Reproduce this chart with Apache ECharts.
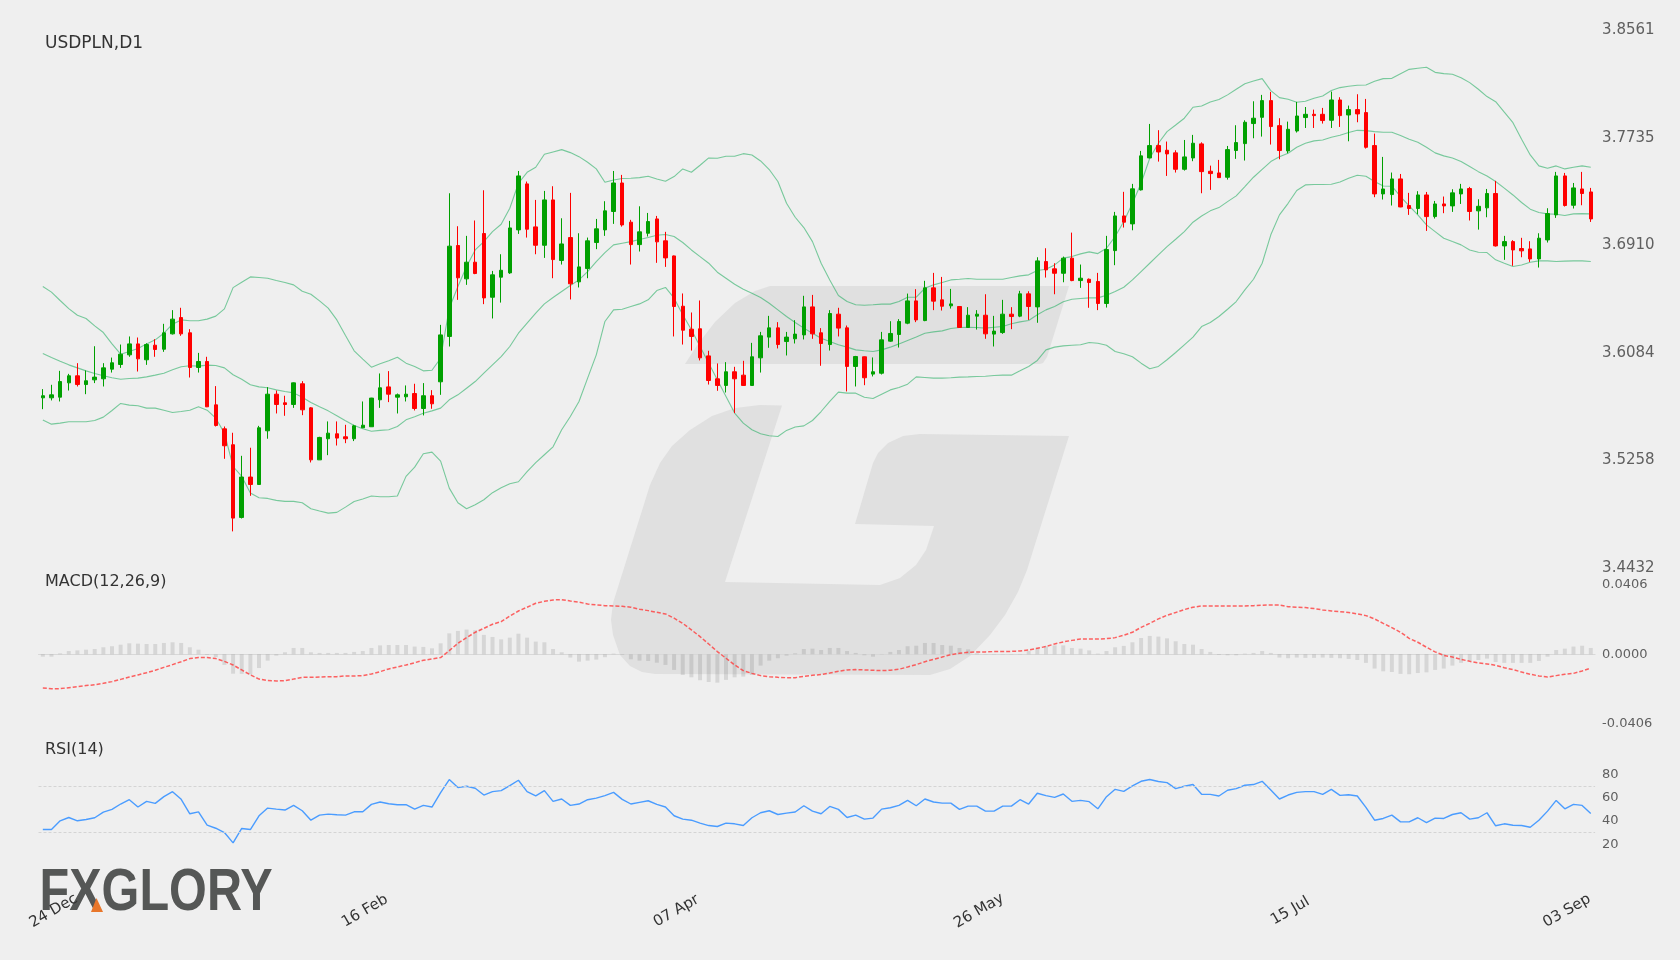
<!DOCTYPE html>
<html><head><meta charset="utf-8">
<style>html,body{margin:0;padding:0;background:#efefef}#c{width:1680px;height:960px}</style>
<script src="https://cdn.jsdelivr.net/npm/echarts@6/dist/echarts.min.js"></script>
</head><body><div id="c"></div>
<script>
const tickLabels=['24 Dec','16 Feb','07 Apr','26 May','15 Jul','03 Sep'];
const tickIndex=[1,37,73,108,144,176];
const priceTicks=[3.4432,3.5258,3.6084,3.6910,3.7735,3.8561];
const macdTicks=[-0.0406,0,0.0406];
const opens=[3.5738,3.5738,3.5743,3.5853,3.5907,3.5840,3.5876,3.5884,3.5958,3.5994,
3.6068,3.6152,3.6030,3.6142,3.6111,3.6229,3.6354,3.6237,3.5971,3.6017,
3.5684,3.5500,3.5378,3.4820,3.5130,3.5073,3.5485,3.5766,3.5700,3.5687,
3.5846,3.5661,3.5262,3.5424,3.5462,3.5439,3.5424,3.5508,3.5516,3.5723,
3.5822,3.5743,3.5746,3.5771,3.5656,3.5754,3.5861,3.6209,3.6907,3.6651,
3.6779,3.6999,3.6510,3.6664,3.6697,3.7027,3.7380,3.7050,3.6909,3.7257,
3.6792,3.6968,3.6628,3.6730,3.6930,3.7027,3.7168,3.7387,3.7086,3.6914,
3.7001,3.7111,3.6943,3.6827,3.6441,3.6265,3.6268,3.6060,3.5884,3.5833,
3.5938,3.5912,3.5833,3.6045,3.6204,3.6275,3.6170,3.6191,3.6221,3.6436,
3.6237,3.6147,3.6380,3.6275,3.5979,3.6053,3.5920,3.5927,3.6173,3.6224,
3.6311,3.6482,3.6331,3.6582,3.6490,3.6444,3.6439,3.6278,3.6365,3.6372,
3.6227,3.6239,3.6380,3.6365,3.6536,3.6436,3.6784,3.6728,3.6694,3.6810,
3.6638,3.6648,3.6631,3.6462,3.6868,3.7134,3.7073,3.7334,3.7579,3.7674,
3.7638,3.7618,3.7492,3.7579,3.7687,3.7477,3.7464,3.7431,3.7636,3.7689,
3.7843,3.7891,3.8019,3.7827,3.7633,3.7786,3.7889,3.7914,3.7914,3.7868,
3.8024,3.7909,3.7950,3.7927,3.7674,3.7303,3.7298,3.7418,3.7214,3.7191,
3.7295,3.7129,3.7226,3.7211,3.7303,3.7344,3.7173,3.7196,3.7306,3.6904,
3.6937,3.6884,3.6881,3.6804,3.6950,3.7142,3.7441,3.7216,3.7341,3.7318];
const closes=[3.5754,3.5761,3.5863,3.5907,3.5840,3.5869,3.5897,3.5968,3.6007,3.6073,
3.6152,3.6037,3.6147,3.6109,3.6237,3.6342,3.6229,3.5971,3.6017,3.5669,
3.5526,3.5370,3.4815,3.5130,3.5073,3.5508,3.5766,3.5687,3.5687,3.5853,
3.5646,3.5262,3.5434,3.5467,3.5429,3.5424,3.5523,3.5528,3.5736,3.5815,
3.5766,3.5761,3.5766,3.5656,3.5754,3.5692,3.6221,3.6902,3.6659,3.6779,
3.6692,3.6505,3.6682,3.6717,3.7042,3.7441,3.7032,3.6909,3.7257,3.6799,
3.6919,3.6613,3.6743,3.6943,3.7035,3.7173,3.7387,3.7065,3.6914,3.7012,
3.7091,3.6935,3.6812,3.6439,3.6257,3.6209,3.6045,3.5871,3.5833,3.5938,
3.5884,3.5833,3.6053,3.6214,3.6275,3.6147,3.6204,3.6227,3.6436,3.6229,
3.6155,3.6385,3.6273,3.5979,3.6055,3.5892,3.5938,3.6183,3.6232,3.6324,
3.6482,3.6336,3.6582,3.6480,3.6441,3.6459,3.6278,3.6372,3.6380,3.6229,
3.6250,3.6380,3.6362,3.6536,3.6439,3.6789,3.6720,3.6694,3.6810,3.6638,
3.6656,3.6623,3.6462,3.6876,3.7134,3.7086,3.7342,3.7595,3.7674,3.7625,
3.7610,3.7492,3.7587,3.7692,3.7474,3.7459,3.7428,3.7643,3.7697,3.7853,
3.7884,3.8019,3.7820,3.7636,3.7799,3.7901,3.7914,3.7904,3.7866,3.8024,
3.7904,3.7950,3.7917,3.7661,3.7303,3.7341,3.7418,3.7203,3.7191,3.7295,
3.7129,3.7226,3.7211,3.7311,3.7341,3.7168,3.7208,3.7306,3.6904,3.6937,
3.6873,3.6866,3.6804,3.6963,3.7152,3.7441,3.7214,3.7349,3.7306,3.7111];
const highs=[3.5805,3.5838,3.5945,3.5922,3.6004,3.5948,3.6134,3.6004,3.6047,3.6147,
3.6209,3.6201,3.6157,3.6188,3.6306,3.6411,3.6429,3.6265,3.6083,3.6053,
3.5828,3.5518,3.5470,3.5293,3.5355,3.5523,3.5820,3.5794,3.5754,3.5856,
3.5866,3.5667,3.5439,3.5557,3.5557,3.5531,3.5531,3.5710,3.5738,3.5925,
3.5943,3.5771,3.5833,3.5846,3.5851,3.5797,3.6298,3.7308,3.7055,3.6981,
3.7099,3.7331,3.6712,3.6840,3.7096,3.7479,3.7398,3.7257,3.7326,3.7362,
3.7116,3.7311,3.7001,3.6968,3.7111,3.7247,3.7479,3.7449,3.7104,3.7208,
3.7157,3.7134,3.7012,3.6830,3.6539,3.6393,3.6485,3.6099,3.6002,3.6012,
3.5976,3.6022,3.6160,3.6244,3.6367,3.6319,3.6244,3.6334,3.6521,3.6528,
3.6273,3.6411,3.6429,3.6293,3.6060,3.6055,3.6048,3.6244,3.6326,3.6342,
3.6538,3.6572,3.6636,3.6697,3.6666,3.6574,3.6441,3.6434,3.6411,3.6533,
3.6367,3.6490,3.6434,3.6559,3.6556,3.6817,3.6886,3.6771,3.6822,3.7006,
3.6761,3.6654,3.6697,3.6981,3.7165,3.7319,3.7380,3.7633,3.7840,3.7792,
3.7705,3.7638,3.7717,3.7756,3.7699,3.7520,3.7564,3.7671,3.7830,3.7868,
3.8014,3.8063,3.8086,3.7884,3.7858,3.8009,3.7970,3.7950,3.7963,3.8088,
3.8045,3.7981,3.8068,3.8032,3.7766,3.7587,3.7467,3.7456,3.7311,3.7324,
3.7318,3.7249,3.7283,3.7339,3.7380,3.7357,3.7262,3.7341,3.7403,3.6981,
3.6948,3.6966,3.6940,3.7001,3.7193,3.7472,3.7464,3.7387,3.7472,3.7349];
const lows=[3.5651,3.5718,3.5710,3.5794,3.5825,3.5766,3.5851,3.5825,3.5932,3.5968,
3.6053,3.5940,3.5991,3.6053,3.6091,3.6224,3.6214,3.5894,3.5932,3.5667,
3.5518,3.5270,3.4713,3.4812,3.4986,3.5073,3.5424,3.5618,3.5600,3.5661,
3.5605,3.5242,3.5262,3.5298,3.5372,3.5390,3.5406,3.5508,3.5516,3.5661,
3.5705,3.5618,3.5710,3.5641,3.5603,3.5654,3.5761,3.6132,3.6490,3.6605,
3.6687,3.6457,3.6347,3.6469,3.6689,3.6996,3.6968,3.6840,3.6812,3.6656,
3.6761,3.6493,3.6585,3.6656,3.6879,3.6981,3.7073,3.7052,3.6761,3.6861,
3.6976,3.6774,3.6743,3.6209,3.6147,3.6101,3.6025,3.5840,3.5792,3.5779,
3.5621,3.5830,3.5833,3.5932,3.6122,3.6117,3.6063,3.6155,3.6186,3.6191,
3.5984,3.6101,3.6209,3.5787,3.5825,3.5835,3.5902,3.5917,3.6168,3.6124,
3.6303,3.6319,3.6326,3.6411,3.6408,3.6423,3.6275,3.6275,3.6262,3.6191,
3.6132,3.6229,3.6265,3.6357,3.6336,3.6314,3.6661,3.6533,3.6625,3.6633,
3.6582,3.6429,3.6411,3.6431,3.6756,3.7045,3.7024,3.7329,3.7577,3.7551,
3.7441,3.7467,3.7482,3.7554,3.7308,3.7334,3.7428,3.7413,3.7572,3.7559,
3.7730,3.7743,3.7682,3.7569,3.7615,3.7774,3.7809,3.7809,3.7843,3.7809,
3.7817,3.7707,3.7853,3.7651,3.7278,3.7260,3.7214,3.7201,3.7142,3.7147,
3.7019,3.7114,3.7155,3.7165,3.7226,3.7099,3.7029,3.7124,3.6899,3.6797,
3.6751,3.6817,3.6781,3.6738,3.6930,3.7119,3.7206,3.7191,3.7216,3.7088];
const bbUpper=[3.6592,3.6549,3.6485,3.6423,3.6372,3.6347,3.6290,3.6239,3.6152,3.6073,
3.6094,3.6117,3.6152,3.6183,3.6234,3.6303,3.6336,3.6329,3.6329,3.6342,
3.6365,3.6421,3.6584,3.6625,3.6666,3.6661,3.6656,3.6638,3.6623,3.6605,
3.6556,3.6533,3.6482,3.6426,3.6336,3.6216,3.6099,3.6035,3.5973,3.5999,
3.6022,3.6050,3.6004,3.5978,3.5945,3.5950,3.6042,3.6426,3.6592,3.6746,
3.6873,3.6937,3.7014,3.7070,3.7193,3.7385,3.7469,3.7508,3.7607,3.7625,
3.7643,3.7620,3.7589,3.7546,3.7495,3.7393,3.7410,3.7421,3.7423,3.7428,
3.7439,3.7418,3.7400,3.7436,3.7495,3.7469,3.7523,3.7579,3.7577,3.7592,
3.7592,3.7612,3.7602,3.7556,3.7490,3.7398,3.7231,3.7124,3.7045,3.6937,
3.6771,3.6643,3.6523,3.6477,3.6452,3.6449,3.6452,3.6457,3.6457,3.6477,
3.6510,3.6510,3.6579,3.6605,3.6623,3.6643,3.6648,3.6654,3.6648,3.6648,
3.6648,3.6648,3.6661,3.6674,3.6682,3.6715,3.6725,3.6758,3.6810,3.6822,
3.6843,3.6858,3.6845,3.6886,3.6976,3.7091,3.7232,3.7385,3.7577,3.7692,
3.7781,3.7832,3.7884,3.7968,3.7978,3.8009,3.8027,3.8063,3.8106,3.8149,
3.8170,3.8188,3.8096,3.8042,3.8029,3.8006,3.8014,3.8037,3.8055,3.8096,
3.8119,3.8129,3.8137,3.8139,3.8167,3.8188,3.8190,3.8226,3.8259,3.8267,
3.8275,3.8236,3.8226,3.8221,3.8195,3.8157,3.8106,3.8050,3.8011,3.7930,
3.7850,3.7722,3.7602,3.7518,3.7500,3.7518,3.7495,3.7508,3.7518,3.7508];
const bbMiddle=[3.6078,3.6048,3.6019,3.5991,3.5968,3.5945,3.5925,3.5907,3.5892,3.5881,
3.5886,3.5889,3.5899,3.5912,3.5927,3.5953,3.5976,3.5984,3.5981,3.5989,
3.5986,3.5968,3.5915,3.5881,3.5838,3.5822,3.5815,3.5799,3.5787,3.5776,
3.5743,3.5702,3.5669,3.5638,3.5600,3.5562,3.5526,3.5500,3.5482,3.5488,
3.5493,3.5518,3.5569,3.5592,3.5620,3.5638,3.5659,3.5723,3.5761,3.5812,
3.5863,3.5927,3.5991,3.6055,3.6132,3.6234,3.6311,3.6388,3.6459,3.6508,
3.6554,3.6600,3.6643,3.6707,3.6784,3.6853,3.6912,3.6925,3.6937,3.6953,
3.6968,3.6986,3.6991,3.6976,3.6930,3.6873,3.6822,3.6771,3.6702,3.6656,
3.6610,3.6572,3.6541,3.6508,3.6464,3.6413,3.6362,3.6316,3.6273,3.6234,
3.6196,3.6170,3.6145,3.6127,3.6106,3.6099,3.6094,3.6106,3.6127,3.6152,
3.6178,3.6204,3.6234,3.6244,3.6252,3.6270,3.6278,3.6280,3.6278,3.6273,
3.6280,3.6285,3.6306,3.6321,3.6331,3.6375,3.6413,3.6439,3.6475,3.6495,
3.6500,3.6505,3.6505,3.6526,3.6554,3.6587,3.6643,3.6707,3.6771,3.6835,
3.6899,3.6955,3.7014,3.7086,3.7134,3.7173,3.7198,3.7244,3.7288,3.7359,
3.7431,3.7492,3.7551,3.7589,3.7615,3.7661,3.7692,3.7710,3.7717,3.7738,
3.7753,3.7774,3.7791,3.7789,3.7781,3.7776,3.7776,3.7751,3.7722,3.7699,
3.7661,3.7618,3.7595,3.7579,3.7551,3.7513,3.7474,3.7441,3.7398,3.7347,
3.7295,3.7237,3.7186,3.7160,3.7150,3.7147,3.7137,3.7150,3.7152,3.7150];
const bbLower=[3.5567,3.5536,3.5544,3.5554,3.5554,3.5554,3.5564,3.5590,3.5641,3.5695,
3.5682,3.5677,3.5659,3.5659,3.5643,3.5626,3.5633,3.5643,3.5669,3.5643,
3.5582,3.5467,3.5211,3.5135,3.5007,3.4971,3.4966,3.4951,3.4943,3.4943,
3.4933,3.4887,3.4869,3.4853,3.4859,3.4899,3.4943,3.4961,3.4984,3.4979,
3.4979,3.4984,3.5135,3.5206,3.5309,3.5321,3.5252,3.5045,3.4933,3.4887,
3.4918,3.4956,3.5010,3.5048,3.5079,3.5094,3.5171,3.5240,3.5301,3.5362,
3.5493,3.5595,3.5710,3.5889,3.6068,3.6324,3.6413,3.6418,3.6439,3.6459,
3.6490,3.6561,3.6585,3.6503,3.6375,3.6260,3.6132,3.6004,3.5876,3.5749,
3.5621,3.5544,3.5493,3.5462,3.5447,3.5441,3.5488,3.5514,3.5523,3.5564,
3.5633,3.5710,3.5782,3.5774,3.5774,3.5743,3.5733,3.5766,3.5799,3.5817,
3.5843,3.5899,3.5894,3.5889,3.5889,3.5892,3.5897,3.5899,3.5902,3.5904,
3.5909,3.5912,3.5912,3.5945,3.5979,3.6025,3.6106,3.6127,3.6137,3.6142,
3.6145,3.6163,3.6157,3.6142,3.6094,3.6076,3.6053,3.6004,3.5961,3.5979,
3.6030,3.6086,3.6145,3.6204,3.6285,3.6316,3.6362,3.6418,3.6477,3.6567,
3.6648,3.6771,3.6989,3.7142,3.7231,3.7329,3.7372,3.7375,3.7375,3.7377,
3.7395,3.7423,3.7446,3.7439,3.7398,3.7364,3.7362,3.7283,3.7211,3.7142,
3.7065,3.7014,3.6963,3.6937,3.6912,3.6873,3.6855,3.6853,3.6797,3.6771,
3.6746,3.6758,3.6779,3.6789,3.6789,3.6784,3.6787,3.6789,3.6789,3.6784];
const macdHist=[-.0014,-.0014,.0006,.0019,.0023,.0027,.0031,.0041,.0047,.0056,
.0064,.0062,.0060,.0060,.0066,.0070,.0066,.0041,.0027,-.0004,
-.0017,-.0062,-.0113,-.0114,-.0118,-.0080,-.0037,-.0008,.0012,.0037,
.0037,.0012,.0008,.0008,.0008,.0008,.0014,.0019,.0037,.0052,
.0054,.0054,.0054,.0045,.0043,.0035,.0064,.0122,.0136,.0144,
.0140,.0113,.0101,.0087,.0097,.0120,.0097,.0074,.0070,.0031,
.0012,-.0019,-.0043,-.0037,-.0031,-.0017,.0004,-.0004,-.0029,-.0037,
-.0039,-.0049,-.0062,-.0091,-.0120,-.0134,-.0151,-.0161,-.0165,-.0149,
-.0134,-.0130,-.0120,-.0066,-.0037,-.0023,-.0008,.0006,.0031,.0033,
.0025,.0037,.0037,.0019,.0008,-.0006,-.0014,.0002,.0014,.0025,
.0047,.0050,.0066,.0066,.0054,.0050,.0037,.0029,.0006,.0002,
.0002,.0002,.0002,.0002,.0019,.0037,.0047,.0052,.0052,.0037,
.0033,.0023,.0004,.0019,.0041,.0049,.0070,.0095,.0107,.0103,
.0093,.0076,.0060,.0056,.0031,.0014,-.0004,-.0006,-.0006,.0004,
.0008,.0019,.0008,-.0019,-.0023,-.0019,-.0021,-.0021,-.0019,-.0021,
-.0023,-.0027,-.0033,-.0050,-.0083,-.0099,-.0103,-.0114,-.0116,-.0109,
-.0105,-.0091,-.0083,-.0066,-.0050,-.0039,-.0033,-.0025,-.0045,-.0050,
-.0050,-.0050,-.0050,-.0039,-.0014,.0025,.0033,.0045,.0050,.0037];
const macdSignal=[-.0196,-.0200,-.0200,-.0194,-.0188,-.0182,-.0177,-.0169,-.0159,-.0146,
-.0132,-.0120,-.0107,-.0093,-.0076,-.0060,-.0043,-.0025,-.0019,-.0019,
-.0025,-.0041,-.0062,-.0091,-.0120,-.0144,-.0153,-.0155,-.0153,-.0144,
-.0134,-.0134,-.0132,-.0130,-.0130,-.0126,-.0126,-.0124,-.0114,-.0101,
-.0085,-.0074,-.0062,-.0049,-.0035,-.0027,-.0019,.0021,.0064,.0097,
.0128,.0151,.0175,.0190,.0223,.0252,.0274,.0297,.0308,.0316,
.0318,.0310,.0303,.0293,.0287,.0283,.0281,.0279,.0274,.0262,
.0254,.0244,.0235,.0210,.0180,.0142,.0103,.0060,.0016,-.0023,
-.0062,-.0095,-.0111,-.0124,-.0130,-.0134,-.0136,-.0136,-.0128,-.0122,
-.0118,-.0109,-.0099,-.0091,-.0089,-.0091,-.0093,-.0095,-.0093,-.0087,
-.0074,-.0060,-.0043,-.0029,-.0016,-.0002,.0006,.0012,.0014,.0014,
.0016,.0016,.0017,.0019,.0025,.0035,.0045,.0060,.0072,.0081,
.0089,.0089,.0089,.0091,.0097,.0111,.0128,.0157,.0180,.0206,
.0227,.0243,.0260,.0274,.0281,.0281,.0281,.0281,.0281,.0281,
.0283,.0285,.0287,.0287,.0277,.0274,.0272,.0266,.0258,.0252,
.0248,.0243,.0235,.0225,.0206,.0180,.0155,.0128,.0093,.0070,
.0041,.0014,-.0006,-.0016,-.0029,-.0041,-.0050,-.0056,-.0064,-.0078,
-.0089,-.0103,-.0116,-.0126,-.0132,-.0124,-.0116,-.0111,-.0097,-.0081];
const rsiValues=[32.6,32.6,40.1,42.9,40.1,41.2,42.7,47.6,49.9,54.5,
58.2,51.9,56.8,55.0,60.8,65.1,58.5,46.1,47.8,36.3,
33.7,30.0,21.1,33.5,32.6,44.4,51.0,50.1,49.3,53.3,
48.7,40.6,45.0,45.8,45.3,45.0,47.8,47.8,54.2,56.2,
54.7,53.9,53.9,50.1,53.3,51.9,64.2,75.5,68.6,69.7,
68.0,62.2,65.1,66.0,70.3,74.9,65.1,61.4,66.0,56.8,
58.8,53.3,54.5,58.2,59.6,61.7,64.5,58.5,54.5,55.9,
57.3,54.2,51.9,44.4,41.5,40.6,38.1,36.0,35.2,38.1,
37.5,36.0,42.7,47.0,48.7,45.5,46.7,47.6,53.0,48.4,
46.1,52.4,49.9,42.9,45.0,41.5,42.4,50.1,51.3,53.3,
57.6,53.0,58.8,56.2,55.3,55.3,49.9,52.7,52.7,48.4,
48.4,52.7,52.7,58.2,54.5,63.7,61.7,60.2,63.1,56.8,
57.6,56.5,50.4,60.8,67.1,65.4,70.0,74.0,75.5,73.8,
72.9,67.7,69.7,71.2,62.8,62.8,61.4,66.3,67.7,70.6,
71.2,74.0,66.5,58.8,62.2,64.5,65.1,65.1,62.8,67.1,
61.9,62.5,61.4,51.6,40.6,42.1,45.0,39.2,39.2,42.7,
38.6,42.4,42.1,45.5,47.0,41.5,42.7,47.0,35.8,37.5,
36.3,36.0,34.6,40.6,48.4,57.6,50.4,54.2,53.3,46.4];
const rsiLevels=[70,30];

const categories=opens.map((_,i)=>{const k=tickIndex.indexOf(i);return k>=0?tickLabels[k]:String(i);});
const candles=opens.map((o,i)=>[o,closes[i],lows[i],highs[i]]);
const font='"DejaVu Sans"';
const GL=38.5,GW=1556.6;
const bg='#efefef';
function xAx(grid,showLabel,showLine){return {type:'category',gridIndex:grid,data:categories,boundaryGap:true,
  axisTick:{show:false},splitLine:{show:false},
  axisLine:{show:showLine,onZero:true,lineStyle:{color:'#d8d8d8',width:1}},
  axisLabel:showLabel?{show:true,interval:(i)=>tickIndex.includes(i),rotate:30,align:'center',verticalAlign:'middle',margin:68,padding:[0,0,0,5],
    color:'#333',fontFamily:font,fontSize:15,hideOverlap:false,formatter:(v)=>v}:{show:false}};}
function yAx(grid,min,max,extra,lab){return Object.assign({type:'value',gridIndex:grid,position:'right',min,max,scale:true,
  axisLine:{show:false},axisTick:{show:false},splitLine:{show:false},
  axisLabel:Object.assign({color:'#606060',fontFamily:font,fontSize:13,margin:7,align:'left'},lab||{})},extra||{});}
function band(name,data){return {name,type:'line',data,xAxisIndex:0,yAxisIndex:0,symbol:'none',silent:true,z:3,
  lineStyle:{color:'rgba(40,175,100,0.6)',width:1.1}};}
const gTop=[[782,405.5],[760,405],[735,408],[712,416],[690,430],[672,446],[660,463],[650,485],[613,603],[611,620],[613,635],[620,655],[630,666],[642,672],[655,674],[930,675],[950,669],[970,656],[990,635],[1005,615],[1018,592],[1027,570],[1069,436],[920,434],[903,436],[888,443],[878,453],[873,463],[855,524],[934,526],[926,550],[916,565],[900,578],[880,585],[725,582]];
const gBand=[[685,364],[698,344],[715,322],[735,303],[755,291],[770,286],[1069,286],[1047,357],[1043,363],[1040,364]];
const chart=echarts.init(document.getElementById('c'),null,{width:1680,height:960});
chart.setOption({
  animation:false,backgroundColor:bg,
  title:[
   {text:'USDPLN,D1',left:45,top:35,textStyle:{fontFamily:font,fontSize:17,fontWeight:'normal',color:'#333'},padding:0},
   {text:'MACD(12,26,9)',left:45,top:574,textStyle:{fontFamily:font,fontSize:16,fontWeight:'normal',color:'#333'},padding:0},
   {text:'RSI(14)',left:45,top:742,textStyle:{fontFamily:font,fontSize:16,fontWeight:'normal',color:'#333'},padding:0}],
  graphic:[
   {type:'polygon',z:-10,silent:true,shape:{points:gTop},style:{fill:'#e0e0e0'}},
   {type:'polygon',z:-10,silent:true,shape:{points:gBand},style:{fill:'#e0e0e0'}},
   {type:'text',z:-5,silent:true,x:39.5,y:893,scaleX:0.81,style:{text:'FXGLORY',fontFamily:'"Liberation Sans"',fontWeight:'bold',fontSize:60,fill:'#555756',verticalAlign:'middle'}},
   {type:'polygon',z:-4,silent:true,shape:{points:[[91,912],[96.5,898],[103,912]]},style:{fill:'#e8762a'}}
  ],
  grid:[
   {left:GL,width:GW,top:30,height:538},
   {left:GL,width:GW,top:584.5,height:139.6},
   {left:GL,width:GW,top:774.3,height:69.9}],
  xAxis:[xAx(0,false,false),xAx(1,false,true),xAx(2,true,false)],
  yAxis:[
   yAx(0,priceTicks[0],priceTicks[5],{},{customValues:priceTicks,formatter:(v)=>v.toFixed(4),fontSize:15,padding:[2,0,0,0]}),
   yAx(1,macdTicks[0],macdTicks[2],{},{customValues:macdTicks,formatter:(v)=>v.toFixed(4)}),
   yAx(2,20,80,{interval:20},{})],
  series:[
   band('BB upper',bbUpper),band('BB middle',bbMiddle),band('BB lower',bbLower),
   {name:'USDPLN',type:'candlestick',data:candles,xAxisIndex:0,yAxisIndex:0,barWidth:4,z:4,silent:true,
    itemStyle:{color:'#00a000',color0:'#ff0000',borderColor:'#00a000',borderColor0:'#ff0000',borderWidth:1}},
   {name:'MACD hist',type:'bar',data:macdHist,xAxisIndex:1,yAxisIndex:1,barWidth:4,silent:true,itemStyle:{color:'rgba(0,0,0,0.1)'}},
   {name:'Signal',type:'line',data:macdSignal,xAxisIndex:1,yAxisIndex:1,symbol:'none',silent:true,lineStyle:{color:'rgba(255,60,60,0.8)',width:1.5,type:[4,2]}},
   {name:'RSI',type:'line',data:rsiValues,xAxisIndex:2,yAxisIndex:2,symbol:'none',silent:true,lineStyle:{color:'#4a9cff',width:1.4},
    markLine:{silent:true,symbol:'none',label:{show:false},lineStyle:{color:'#d4d4d4',type:[3,2],width:1},data:rsiLevels.map(v=>({yAxis:v}))}}
  ]
});
</script></body></html>
